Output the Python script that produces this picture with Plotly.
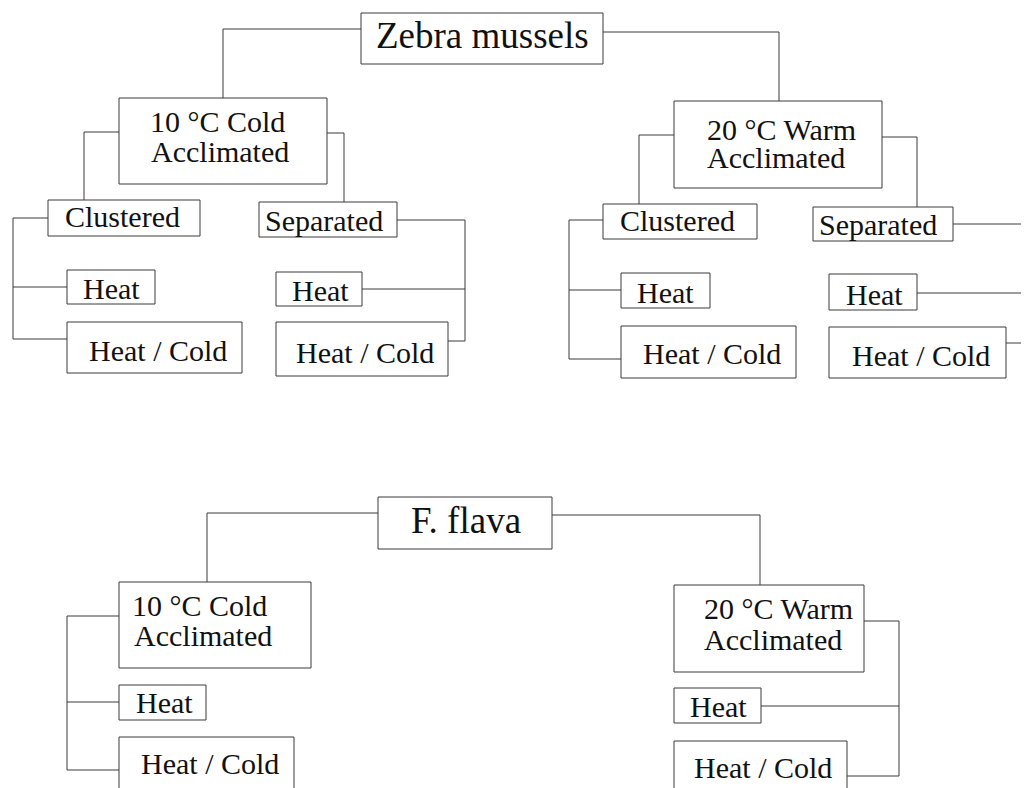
import plotly.graph_objects as go

# ---- labels (content) ----
ROOTS = ["Zebra mussels", "F. flava"]
ACCLIMATION = [["10 °C Cold", "Acclimated"], ["20 °C Warm", "Acclimated"]]
GROUPING = ["Clustered", "Separated"]
TREATMENTS = ["Heat", "Heat / Cold"]

# ---- page geometry (pixels, y downward) ----
W, H = 1029, 788
OFF = 8  # default page margin of the html body
LINE = "#3a3a3a"
FONT = "Liberation Serif, Times New Roman, serif"

boxes = {
    "Z": (361, 13, 603, 64),
    "ZC": (119, 98, 327, 184),
    "ZW": (674, 101, 882, 188),
    "ZC_cl": (48, 200, 200, 236),
    "ZC_se": (259, 202, 397, 237),
    "ZC_cl_h": (67, 270, 155, 304),
    "ZC_cl_hc": (67, 322, 242, 373),
    "ZC_se_h": (276, 272, 362, 306),
    "ZC_se_hc": (276, 322, 448, 376),
    "ZW_cl": (603, 204, 757, 239),
    "ZW_se": (813, 207, 953, 241),
    "ZW_cl_h": (621, 273, 710, 308),
    "ZW_cl_hc": (621, 326, 796, 378),
    "ZW_se_h": (829, 274, 917, 310),
    "ZW_se_hc": (829, 327, 1006, 378),
    "F": (378, 497, 552, 549),
    "FC": (119, 582, 311, 668),
    "FW": (674, 585, 864, 672),
    "FC_h": (119, 685, 206, 720),
    "FC_hc": (119, 737, 294, 800),
    "FW_h": (674, 688, 761, 723),
    "FW_hc": (674, 741, 847, 800),
}

# text placements: (text, x_center, y_center, size)
texts = [
    (ROOTS[0], 482, 35, 37),
    (ACCLIMATION[0][0], 217, 121, 30), (ACCLIMATION[0][1], 219.5, 151, 30),
    (ACCLIMATION[1][0], 781, 129, 30), (ACCLIMATION[1][1], 776, 157.5, 30),
    (GROUPING[0], 122, 216, 30), (GROUPING[1], 324, 220, 30),
    (TREATMENTS[0], 111, 288, 30), (TREATMENTS[1], 157.5, 350, 30),
    (TREATMENTS[0], 320, 290, 30), (TREATMENTS[1], 365, 352, 30),
    (GROUPING[0], 677.5, 220, 30), (GROUPING[1], 878, 224, 30),
    (TREATMENTS[0], 665.5, 292, 30), (TREATMENTS[1], 711.5, 353, 30),
    (TREATMENTS[0], 874, 294, 30), (TREATMENTS[1], 920.5, 355, 30),
    (ROOTS[1], 466, 520, 37),
    (ACCLIMATION[0][0], 199.5, 605, 30), (ACCLIMATION[0][1], 202.5, 635.5, 30),
    (ACCLIMATION[1][0], 778, 608.5, 30), (ACCLIMATION[1][1], 773, 639, 30),
    (TREATMENTS[0], 164, 702.5, 30), (TREATMENTS[1], 209.5, 763.5, 30),
    (TREATMENTS[0], 718, 706, 30), (TREATMENTS[1], 763, 767.5, 30),
]

connectors = [
    [(361, 29), (223, 29), (223, 98)],
    [(603, 32), (779, 32), (779, 101)],
    [(119, 132), (84, 132), (84, 200)],
    [(327, 133), (344, 133), (344, 202)],
    [(48, 218), (13, 218), (13, 339), (67, 339)],
    [(13, 287), (67, 287)],
    [(397, 220), (465, 220), (465, 341), (448, 341)],
    [(362, 289), (465, 289)],
    [(674, 135), (639, 135), (639, 204)],
    [(882, 137), (917, 137), (917, 207)],
    [(603, 220), (569, 220), (569, 359), (621, 359)],
    [(569, 290), (621, 290)],
    [(953, 224), (1040, 224)],
    [(917, 293), (1040, 293)],
    [(1006, 343), (1040, 343)],
    [(378, 513), (207, 513), (207, 582)],
    [(552, 515), (760, 515), (760, 585)],
    [(119, 616), (67, 616), (67, 770), (119, 770)],
    [(67, 702), (119, 702)],
    [(864, 621), (899, 621), (899, 776), (847, 776)],
    [(761, 706), (899, 706)],
]

fig = go.Figure()
fig.add_trace(go.Scatter(x=[OFF, W], y=[OFF, H], mode="markers",
                         marker=dict(opacity=0), hoverinfo="skip", showlegend=False))

shapes = []
for key, (x0, y0, x1, y1) in boxes.items():
    shapes.append(dict(type="rect", xref="x", yref="y", x0=x0, y0=y0, x1=x1, y1=y1,
                       line=dict(color=LINE, width=1), fillcolor="rgba(0,0,0,0)"))
for pts in connectors:
    path = "M " + " L ".join(f"{x},{y}" for x, y in pts)
    shapes.append(dict(type="path", xref="x", yref="y", path=path,
                       line=dict(color=LINE, width=1)))

annotations = []
for t, x, y, s in texts:
    annotations.append(dict(text=t, x=x, y=y, xref="x", yref="y", showarrow=False,
                            xanchor="center", yanchor="middle",
                            font=dict(family=FONT, size=s, color="#111111")))

fig.update_layout(
    width=W - OFF, height=H - OFF, autosize=False,
    margin=dict(l=0, r=0, t=0, b=0, pad=0),
    paper_bgcolor="white", plot_bgcolor="white",
    xaxis=dict(range=[OFF, W], visible=False, fixedrange=True),
    yaxis=dict(range=[H, OFF], visible=False, fixedrange=True),
    shapes=shapes, annotations=annotations,
    showlegend=False,
)

fig.write_html("out.html")
